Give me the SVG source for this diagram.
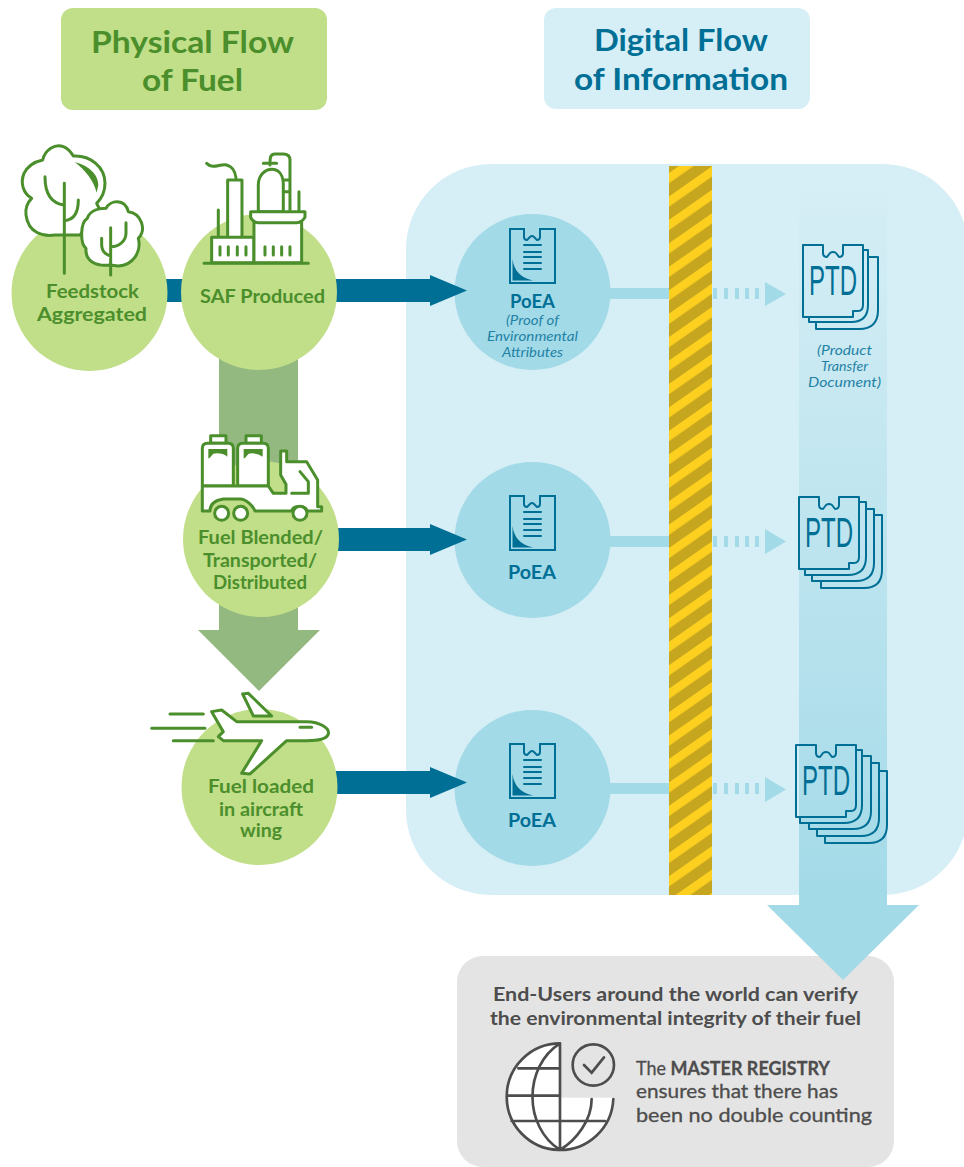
<svg xmlns="http://www.w3.org/2000/svg" width="964" height="1167" viewBox="0 0 964 1167">
<style>
text{font-family:"Lato","Open Sans","Liberation Sans",sans-serif;text-anchor:start}
.hg{font-size:31px;font-weight:700;fill:#4b8f2c}
.hb{font-size:31px;font-weight:700;fill:#006f96}
.n{font-size:18.5px;font-weight:700;fill:#4b8f2c}
.p{font-size:18px;font-weight:700;fill:#006f96}
.i{font-size:13px;font-style:italic;fill:#1f82a5}
.g{font-size:18.5px;fill:#4d4d4d;stroke:#4d4d4d;stroke-width:.3px}
.b{font-weight:700}
.gb{font-weight:700;stroke:none}
.ptd{font-family:"Liberation Sans","Roboto",sans-serif;font-size:43px;fill:#006f96}
.c{fill:#c1de88}
.pc{fill:#a3dae8}
.is{fill:none;stroke:#4b8f2c;stroke-width:9;stroke-linecap:round;stroke-linejoin:round}
.iw{fill:#fff;stroke:#4b8f2c;stroke-width:9;stroke-linejoin:round;stroke-linecap:round}
.if{fill:#4b8f2c}
.ds{fill:none;stroke:#006f96;stroke-width:2;stroke-linejoin:round}
.dw{fill:none;stroke:#006f96;stroke-width:2;stroke-linecap:round}
.gl{fill:none;stroke:#4d4d4d;stroke-width:8;stroke-linecap:round}
.ar{fill:#006f96}
.lb{fill:#a3dae8}
</style>
<defs>
<pattern id="haz" patternUnits="userSpaceOnUse" width="20" height="19.2" patternTransform="translate(669 173) rotate(-35)">
<rect width="20" height="19.2" fill="#c6a61f"/>
<rect width="20" height="8.4" fill="#fdd01f"/>
</pattern>
<linearGradient id="col" x1="0" y1="0" x2="0" y2="1">
<stop offset="0" stop-color="#d6eef5"/>
<stop offset="1" stop-color="#a3dae8"/>
</linearGradient>
<g id="doc">
<path d="M15 1H1V55H46V1H31V9Q31 12 28 12L25 9Q23 7 21 9L18 12Q15 12 15 9Z" fill="none" stroke="#006f96" stroke-width="2"/>
<path d="M15 17H32M15 24H32M15 29H32M15 35H32M15 41H32" class="dw"/>
<path d="M3.500 31C5 43 12 50 24 52.500H3.500Z" fill="#006f96"/>
</g>
<path id="page" class="ds" d="M20 0H0V72H50V66H55Q60 66 60 60V0H40V8Q40 12 36 12L33 8Q30 6 27 8L24 12Q20 12 20 8Z"/>
</defs>

<g id="panel">
<rect x="406" y="164" width="562" height="731" rx="85" fill="#d6eef5"/>
<rect x="799" y="185" width="88" height="721" fill="url(#col)"/>
</g>

<g id="node-poea-1">
<circle cx="532.500" cy="292" r="78" class="pc"/>
<use href="#doc" x="509" y="228"/>
<text class="p" x="510" y="308" textLength="45" lengthAdjust="spacingAndGlyphs">PoEA</text>
<text class="i" x="506" y="325" textLength="53" lengthAdjust="spacingAndGlyphs">(Proof of</text>
<text class="i" x="487" y="341" textLength="91" lengthAdjust="spacingAndGlyphs">Environmental</text>
<text class="i" x="502" y="357" textLength="61" lengthAdjust="spacingAndGlyphs">Attributes</text>
</g>
<g id="node-poea-2">
<circle cx="532.500" cy="540" r="78" class="pc"/>
<use href="#doc" x="509" y="495"/>
<text class="p" x="508" y="579" textLength="48" lengthAdjust="spacingAndGlyphs">PoEA</text>
</g>
<g id="node-poea-3">
<circle cx="532.500" cy="788" r="78" class="pc"/>
<use href="#doc" x="509" y="743"/>
<text class="p" x="508" y="827" textLength="48" lengthAdjust="spacingAndGlyphs">PoEA</text>
</g>

<g id="connectors">
<path d="M219 355H298V630H320L259 691L198 630H219Z" fill="#93b981"/>
<rect x="160" y="279" width="30" height="23" class="ar"/>
<path d="M330 279H430V275L467 290.500L430 306V302H330Z" class="ar"/>
<path d="M330 528H430V524L467 539.500L430 555V551H330Z" class="ar"/>
<path d="M330 771H430V767L467 782.500L430 798V794H330Z" class="ar"/>
<rect x="605" y="288" width="64" height="11" class="lb"/>
<rect x="605" y="536" width="64" height="11" class="lb"/>
<rect x="605" y="783" width="64" height="11" class="lb"/>
<path d="M713 288h4v11h-4zM724 288h4v11h-4zM735 288h4v11h-4zM745 288h4v11h-4zM755 288h4v11h-4z" class="lb"/>
<path d="M765 282L786 294L765 306Z" class="lb"/>
<path d="M713 536h4v11h-4zM724 536h4v11h-4zM735 536h4v11h-4zM745 536h4v11h-4zM755 536h4v11h-4z" class="lb"/>
<path d="M765 529L786 541.500L765 554Z" class="lb"/>
<path d="M713 783h4v11h-4zM724 783h4v11h-4zM735 783h4v11h-4zM745 783h4v11h-4zM755 783h4v11h-4z" class="lb"/>
<path d="M765 777L786 789.500L765 802Z" class="lb"/>
</g>

<g id="barrier">
<rect x="669" y="166" width="43" height="729" fill="url(#haz)"/>
</g>

<g id="header-physical">
<rect x="61" y="8" width="266" height="102" rx="12" class="c"/>
<text class="hg" x="91" y="53" textLength="203" lengthAdjust="spacingAndGlyphs">Physical Flow</text>
<text class="hg" x="142" y="91" textLength="101" lengthAdjust="spacingAndGlyphs">of Fuel</text>
</g>
<g id="header-digital">
<rect x="544" y="8" width="266" height="101" rx="12" fill="#d6eef5"/>
<text class="hb" x="594" y="51" textLength="174" lengthAdjust="spacingAndGlyphs">Digital Flow</text>
<text class="hb" x="574" y="90" textLength="214" lengthAdjust="spacingAndGlyphs">of Information</text>
</g>

<g id="node-feedstock">
<circle cx="89.500" cy="293" r="78" class="c"/>
<g transform="translate(0 130) scale(.3333)">
<path class="iw" d="M165 315C130 320 85 310 78 255C75 230 85 215 95 205C70 190 60 160 72 130C85 105 105 95 128 90C135 60 165 40 190 50C205 55 215 70 220 78C270 75 315 110 315 160C315 185 305 205 290 220L300 240L240 315Z"/>
<path d="M225 97C260 105 295 130 295 165L290 188C280 150 255 120 225 97Z" class="if"/>
<path class="is" d="M193 160V430M135 140C135 190 155 220 193 225M235 210C235 250 220 270 193 272"/>
<path class="iw" d="M330 405C290 410 255 395 258 355C240 340 240 280 262 265C270 240 300 235 318 235C330 210 375 205 385 245C425 250 440 300 415 325C425 365 400 405 355 408Z"/>
<path class="is" d="M332 293V435M378 278V310C378 335 355 350 333 350M305 325V345C305 365 320 375 332 378"/>
</g>
<text class="n" x="46" y="298" textLength="93" lengthAdjust="spacingAndGlyphs">Feedstock</text>
<text class="n" x="37" y="321" textLength="110" lengthAdjust="spacingAndGlyphs">Aggregated</text>
</g>

<g id="node-saf">
<circle cx="259" cy="292" r="78" class="c"/>
<g transform="translate(0 130) scale(.3333)">
<path class="is" d="M620 100C640 120 660 100 680 105C700 110 705 125 708 143M655 240V320"/>
<path class="iw" d="M683 320V150H726V320"/>
<path class="iw" d="M775 245V165C775 130 800 118 815 118C840 118 850 140 850 165V245Z"/>
<path class="is" d="M870 240V90C870 75 860 72 850 72H825C810 72 810 85 810 105M790 100H830M850 150H870M850 185H870M897 185V240"/>
<rect x="635" y="322" width="127" height="76" class="iw"/>
<rect x="762" y="275" width="143" height="123" class="iw"/>
<path class="iw" d="M752 245H915V262Q905 278 890 278H775Q760 278 752 262Z"/>
<path class="is" d="M612 400H925M660 350V375M685 350V375M712 350V375M738 350V375M795 350V375M820 350V375M845 350V375M870 350V375"/>
</g>
<text class="n" x="200" y="303" textLength="125" lengthAdjust="spacingAndGlyphs">SAF Produced</text>
</g>

<g id="node-blended">
<circle cx="261" cy="539" r="78" class="c"/>
<g transform="translate(190 425) scale(.3333)">
<path class="iw" d="M62 55V32H108V55ZM168 55V32H214V55Z"/>
<path class="iw" d="M37 183V70Q37 55 52 55H115Q130 55 130 70V183Z"/>
<path class="iw" d="M143 183V70Q143 55 158 55H220Q235 55 235 70V183Z"/>
<path d="M55 72H112V95Q95 82 70 86L58 100H55ZM161 72H218V95Q200 82 176 86L164 100H161Z" class="if"/>
<path class="iw" d="M37 183H235L250 205H288V178L272 150V78H290V110H350L383 165V245H395V258H352C345 240 310 240 305 258H195C190 245 170 222 150 222H100C80 225 60 235 60 258H37Z"/>
<path class="is" d="M330 140L355 170V205H305"/>
<circle cx="95" cy="265" r="21" class="iw"/>
<circle cx="152" cy="265" r="21" class="iw"/>
<circle cx="330" cy="265" r="21" class="iw"/>
</g>
<text class="n" x="198" y="544" textLength="125" lengthAdjust="spacingAndGlyphs">Fuel Blended/</text>
<text class="n" x="203" y="567" textLength="114" lengthAdjust="spacingAndGlyphs">Transported/</text>
<text class="n" x="213" y="589" textLength="94" lengthAdjust="spacingAndGlyphs">Distributed</text>
</g>

<g id="node-loaded">
<circle cx="259.500" cy="787" r="78" class="c"/>
<g transform="translate(140 420) scale(.3333)">
<path class="iw" d="M340 888L308 822L325 820L395 888Z"/>
<path class="iw" d="M215 875L245 870L290 905H500C540 905 570 925 565 942C560 960 520 962 500 962H440L330 1062L305 1060L365 962H250L235 950L250 935Z"/>
<path class="is" d="M480 922H515M90 882H190M35 925H195M100 962H220"/>
</g>
<text class="n" x="208" y="793" textLength="106" lengthAdjust="spacingAndGlyphs">Fuel loaded</text>
<text class="n" x="219" y="816" textLength="84" lengthAdjust="spacingAndGlyphs">in aircraft</text>
<text class="n" x="240" y="837" textLength="42" lengthAdjust="spacingAndGlyphs">wing</text>
</g>

<g id="node-ptd-1">
<path class="ds" d="M868 257H878V310Q878 329 859 329H816V322"/>
<path class="ds" d="M863 250H868V305Q868 322 851 322H809V317"/>
<use href="#page" x="803" y="245"/>
<text class="ptd" x="809" y="295" textLength="48" lengthAdjust="spacingAndGlyphs">PTD</text>
<text class="i" x="817" y="355" textLength="55" lengthAdjust="spacingAndGlyphs">(Product</text>
<text class="i" x="821" y="371" textLength="47" lengthAdjust="spacingAndGlyphs">Transfer</text>
<text class="i" x="808" y="387" textLength="73" lengthAdjust="spacingAndGlyphs">Document)</text>
</g>
<g id="node-ptd-2">
<path class="ds" d="M874 515H882V570Q882 588 864 588H821V581"/>
<path class="ds" d="M866 509H874V563Q874 581 856 581H812V575"/>
<path class="ds" d="M860 502H866V557Q866 575 848 575H805V568"/>
<use href="#page" x="799" y="497"/>
<text class="ptd" x="805" y="547" textLength="48" lengthAdjust="spacingAndGlyphs">PTD</text>
</g>
<g id="node-ptd-3">
<path class="ds" d="M879 771H887V825Q887 843 869 843H825V836"/>
<path class="ds" d="M871 763H879V818Q879 836 861 836H817V829"/>
<path class="ds" d="M862 756H871V811Q871 829 853 829H809V823"/>
<path class="ds" d="M856 750H862V805Q862 823 844 823H800V817"/>
<use href="#page" x="796" y="745"/>
<text class="ptd" x="802" y="795" textLength="48" lengthAdjust="spacingAndGlyphs">PTD</text>
</g>

<g id="node-registry">
<rect x="457" y="956" width="437" height="211" rx="26" fill="#e4e4e4"/>
<text class="g gb" x="493" y="1001" textLength="365" lengthAdjust="spacingAndGlyphs">End-Users around the world can verify</text>
<text class="g gb" x="490" y="1025" textLength="371" lengthAdjust="spacingAndGlyphs">the environmental integrity of their fuel</text>
<g transform="translate(450 950) scale(.3333)">
<path d="M330 280V443H490A160 160 0 0 1 170 440A160 160 0 0 1 330 280Z" fill="#fff"/>
<path class="gl" d="M330 280A160 160 0 1 0 490 447M330 280V600M330 280C220 350 220 530 330 600C380 570 425 510 425 447M205 355H330M170 437H330M185 513H465"/>
<circle cx="430" cy="345" r="62" class="gl"/>
<path class="gl" d="M402 345L425 368L462 322"/>
</g>
<text class="g" x="636" y="1075" textLength="194" lengthAdjust="spacingAndGlyphs">The <tspan class="b">MASTER REGISTRY</tspan></text>
<text class="g" x="636" y="1098" textLength="202" lengthAdjust="spacingAndGlyphs">ensures that there has</text>
<text class="g" x="636" y="1122" textLength="236" lengthAdjust="spacingAndGlyphs">been no double counting</text>
</g>

<g id="arrow-to-registry">
<path d="M799 905H767L843 980L919 905H887V880H799Z" class="lb"/>
</g>
</svg>
